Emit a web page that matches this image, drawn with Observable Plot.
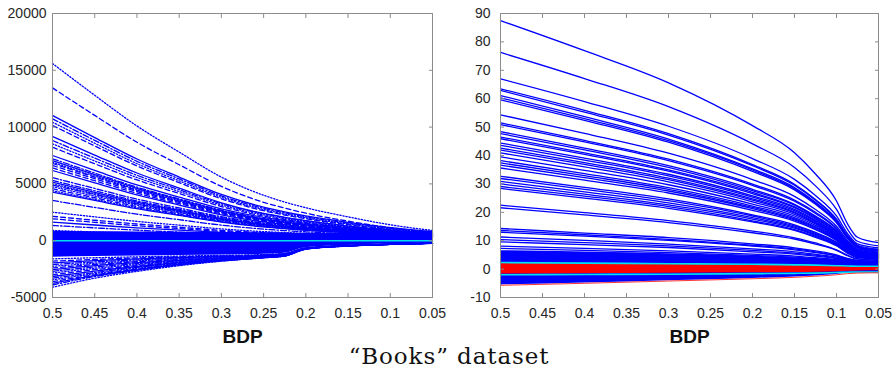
<!DOCTYPE html>
<html><head><meta charset="utf-8">
<script src="https://cdn.jsdelivr.net/npm/d3@7"></script>
<script src="https://cdn.jsdelivr.net/npm/@observablehq/plot@0.6"></script>
<style>
body{margin:0;background:#fff;}
#wrap{position:relative;width:896px;height:374px;overflow:hidden;background:#fff;}
#left{position:absolute;left:0;top:0;}
#right{position:absolute;left:448px;top:0;}
#cap{position:absolute;left:0;width:898px;top:343px;text-align:center;font-family:"DejaVu Serif",serif;font-size:23px;letter-spacing:0.9px;color:#111;white-space:nowrap;}
</style></head><body>
<div id="wrap"><div id="left"></div><div id="right"></div><div id="cap">“Books” dataset</div></div>
<script>
// ---------- data ----------
const xTicks = [0.5, 0.45, 0.4, 0.35, 0.3, 0.25, 0.2, 0.15, 0.1, 0.05];
const xTickLabels = ["0.5", "0.45", "0.4", "0.35", "0.3", "0.25", "0.2", "0.15", "0.1", "0.05"];
const leftYTicks = [-5000, 0, 5000, 10000, 15000, 20000];
const rightYTicks = [-10, 0, 10, 20, 30, 40, 50, 60, 70, 80, 90];
const xLabel = "BDP";

// left panel: BDP sample points
const leftX = [0.5, 0.45, 0.4, 0.35, 0.3, 0.25, 0.225, 0.2, 0.15, 0.1, 0.05];
const leftUpperLines = [
  [15600,12800,10100,7800,5600,4000,3400,2900,2100,1400,900],
  [13450,11030,8670,6690,4780,3380,2870,2420,1720,1150,700],
  [11020,9080,7190,5600,4070,2950,2540,2180,1620,1160,800],
  [10730,8830,6990,5440,3940,2850,2450,2100,1550,1100,750],
  [10430,8580,6780,5270,3810,2740,2350,2010,1480,1040,700],
  [10140,8340,6580,5110,3690,2640,2260,1930,1410,980,650],
  [9170,7540,5960,4630,3340,2400,2060,1760,1290,900,600],
  [8820,7270,5760,4490,3260,2370,2040,1750,1300,940,650],
  [8530,7020,5560,4330,3140,2270,1950,1670,1230,880,600],
  [8230,6770,5350,4160,3010,2160,1860,1590,1160,820,550],
  [7500,6190,4910,3840,2810,2050,1770,1530,1150,840,600],
  [7210,5950,4710,3680,2680,1950,1680,1450,1080,780,550],
  [6910,5690,4510,3510,2550,1850,1590,1370,1010,720,500],
  [6620,5460,4330,3380,2460,1790,1540,1330,990,710,500],
  [6180,5090,4030,3140,2280,1650,1420,1220,910,650,450],
  [5300,4390,3500,2760,2040,1510,1320,1150,880,670,500],
  [5010,4140,3300,2590,1910,1410,1230,1070,820,610,450],
  [4570,3780,3010,2360,1730,1280,1110,960,730,550,400],
  [4270,3540,2820,2220,1640,1210,1060,920,710,540,400],
  [3540,2930,2340,1850,1370,1020,890,780,610,460,350],
  [2510,2100,1700,1370,1040,800,720,640,520,430,350],
  [1930,1620,1320,1070,820,640,580,520,430,360,300],
  [1630,1380,1130,930,730,580,530,480,410,350,300],
  [1340,1130,930,760,600,480,440,400,340,290,250],
  [900,770,640,530,420,350,320,300,260,230,200],
  [6800,5600,4440,3460,2520,1820,1570,1350,1000,720,500],
  [5150,4260,3390,2660,1950,1440,1250,1090,830,620,450],
  [4900,4060,3230,2540,1870,1390,1210,1050,810,610,450],
  [4400,3640,2900,2280,1680,1240,1080,940,720,540,400],
  [6400,5280,4180,3260,2370,1720,1490,1280,950,690,480],
  [7050,5820,4610,3600,2620,1900,1630,1410,1050,760,530],
  [5550,4600,3660,2880,2110,1560,1360,1180,890,660,480],
  [4750,3930,3130,2460,1800,1330,1160,1010,770,580,430],
  [2150,1800,1470,1190,910,710,640,570,460,380,320]
];
const leftLowerLines = [
  [-1600,-1500,-1420,-1350,-1290,-1220,-1120,-630,-430,-305,-210],
  [-1800,-1650,-1520,-1420,-1340,-1250,-1140,-640,-435,-305,-212],
  [-1950,-1760,-1600,-1480,-1380,-1280,-1160,-650,-440,-310,-214],
  [-2100,-1870,-1680,-1540,-1420,-1300,-1180,-660,-440,-310,-216],
  [-2250,-1990,-1770,-1600,-1460,-1320,-1200,-670,-445,-312,-218],
  [-2400,-2100,-1850,-1660,-1500,-1340,-1215,-680,-445,-314,-220],
  [-2550,-2200,-1930,-1720,-1530,-1360,-1230,-690,-450,-315,-220],
  [-2700,-2310,-2020,-1780,-1570,-1380,-1245,-700,-450,-316,-222],
  [-2850,-2430,-2100,-1830,-1600,-1400,-1260,-705,-455,-318,-224],
  [-3000,-2550,-2190,-1890,-1630,-1420,-1275,-710,-455,-320,-225],
  [-3150,-2680,-2270,-1940,-1660,-1440,-1290,-720,-460,-320,-226],
  [-3300,-2800,-2350,-1990,-1690,-1455,-1300,-725,-460,-322,-228],
  [-3450,-2900,-2430,-2040,-1720,-1470,-1315,-730,-462,-323,-228],
  [-3600,-3000,-2500,-2080,-1740,-1480,-1325,-735,-465,-325,-230],
  [-3750,-3080,-2560,-2110,-1760,-1490,-1335,-740,-465,-325,-230],
  [-3900,-3150,-2610,-2140,-1780,-1500,-1345,-745,-468,-327,-232],
  [-4100,-3300,-2700,-2200,-1800,-1510,-1355,-750,-470,-328,-232]
];
const leftBandUpper = [800,780,760,740,720,700,680,650,650,700,850];
const leftBandLower = [-1450,-1400,-1350,-1300,-1260,-1200,-1100,-620,-420,-300,-210];
const leftZero = [0,0,0,0,0,0,0,0,0,0,0];

// right panel: BDP sample points
const rightX = [0.5, 0.4, 0.3, 0.2, 0.15, 0.125, 0.1, 0.087, 0.075, 0.05];
const rightLines = [
  [87.5,76.9,65.6,50.5,41.0,33.5,24.0,16.0,11.2,9.3],
  [76.3,67.1,57.2,44.1,35.8,29.3,21.0,14.1,9.8,8.2],
  [67.0,59.0,50.3,38.9,31.6,25.9,18.7,12.6,8.9,7.5],
  [63.5,55.9,47.7,36.8,29.9,24.5,17.6,11.9,8.4,7.0],
  [62.9,55.3,47.2,36.4,29.5,24.2,17.3,11.6,8.1,6.8],
  [61.1,53.7,45.8,35.3,28.7,23.5,16.8,11.3,7.9,6.6],
  [60.3,53.0,45.2,34.9,28.3,23.2,16.6,11.1,7.8,6.5],
  [59.6,52.4,44.7,34.4,27.9,22.8,16.3,10.9,7.6,6.3],
  [54.3,47.8,40.8,31.5,25.6,21.0,15.1,10.2,7.2,6.0],
  [51.5,45.3,38.7,29.9,24.3,20.0,14.4,9.7,6.9,5.8],
  [50.9,44.8,38.2,29.5,23.9,19.6,14.1,9.5,6.7,5.6],
  [48.4,42.6,36.4,28.1,22.8,18.7,13.5,9.1,6.4,5.4],
  [47.7,42.0,35.8,27.6,22.5,18.4,13.3,8.9,6.3,5.3],
  [46.5,40.9,34.9,27.0,21.9,18.0,13.0,8.8,6.2,5.2],
  [45.9,40.4,34.5,26.6,21.6,17.7,12.8,8.6,6.1,5.1],
  [44.4,39.1,33.4,25.8,21.0,17.2,12.4,8.4,5.9,5.0],
  [43.6,38.4,32.8,25.3,20.6,16.9,12.2,8.2,5.8,4.9],
  [42.6,37.5,32.0,24.7,20.1,16.5,11.9,8.1,5.7,4.8],
  [41.9,36.9,31.5,24.3,19.8,16.2,11.7,7.9,5.6,4.7],
  [40.9,36.0,30.7,23.7,19.3,15.9,11.4,7.7,5.5,4.6],
  [39.5,34.8,29.7,22.9,18.7,15.4,11.1,7.5,5.3,4.5],
  [38.2,33.6,28.7,22.2,18.1,14.9,10.8,7.3,5.2,4.4],
  [37.4,32.9,28.1,21.7,17.7,14.6,10.5,7.1,5.1,4.3],
  [36.6,32.2,27.5,21.3,17.3,14.2,10.3,7.0,5.0,4.2],
  [35.6,31.3,26.8,20.7,16.9,13.9,10.0,6.8,4.9,4.1],
  [32.7,28.8,24.7,19.1,15.6,12.9,9.4,6.5,4.7,4.0],
  [31.9,28.1,24.1,18.7,15.2,12.6,9.2,6.3,4.6,3.9],
  [30.9,27.2,23.3,18.1,14.8,12.2,8.9,6.1,4.5,3.8],
  [30.0,26.4,22.6,17.6,14.4,11.9,8.6,6.0,4.3,3.7],
  [29.1,25.7,22.0,17.0,13.9,11.5,8.4,5.8,4.2,3.6],
  [28.4,25.0,21.4,16.6,13.6,11.2,8.2,5.6,4.1,3.5],
  [22.5,19.9,17.1,13.4,11.0,9.2,6.8,4.9,3.7,3.2],
  [21.6,19.1,16.4,12.8,10.6,8.8,6.6,4.7,3.5,3.1],
  [14.3,12.7,11.1,8.9,7.5,6.4,5.0,3.8,3.1,2.8],
  [13.6,12.1,10.5,8.4,7.1,6.1,4.7,3.6,3.0,2.7],
  [13.0,11.6,10.1,8.1,6.8,5.8,4.6,3.5,2.8,2.6],
  [11.3,10.1,8.8,7.1,6.1,5.2,4.2,3.3,2.7,2.5],
  [10.4,9.3,8.2,6.6,5.6,4.9,3.9,3.1,2.6,2.4],
  [9.6,8.6,7.6,6.1,5.3,4.6,3.7,2.9,2.5,2.3],
  [8.1,7.3,6.4,5.3,4.6,4.0,3.3,2.7,2.3,2.2],
  [7.3,6.6,5.8,4.8,4.2,3.7,3.1,2.5,2.2,2.1]
];
const rightBandUpper = [6.5,6.0,5.4,4.6,4.0,3.6,3.0,2.5,2.2,2.0];
const rightBandLower = [-5.6,-4.9,-4.1,-3.3,-2.8,-2.4,-1.9,-1.5,-1.3,-1.2];
const redUpper = [2.1,1.9,1.7,1.5,1.3,1.2,1.0,0.8,0.7,0.6];
const redLower = [-1.7,-1.6,-1.5,-1.3,-1.2,-1.1,-0.9,-0.8,-0.7,-0.6];
const cyanUpper = [2.3,2.1,1.9,1.7,1.5,1.4,1.2,1.1,1.0,1.0];
const cyanLower = [-2.0,-1.9,-1.8,-1.6,-1.5,-1.4,-1.2,-1.1,-1.0,-1.0];
const redEdge = [-5.7,-5.0,-4.2,-3.4,-2.9,-2.5,-2.0,-1.6,-1.4,-1.3];

// ---------- build ----------
const BLUE = "#0000ff", RED = "#ff0000", CYAN = "#00e0ee", FRAME = "#8c8c8c", TXT = "#262626";
const dashOrder = ["1.3,1.8", "5,3", null, "6,2,1.5,2"];
const tidy = (X, lines, off = 0) => lines.flatMap((ys, i) => ys.map((y, j) => ({x: X[j], y, id: i + off})));
const bandRows = (X, lo, hi) => X.map((x, j) => ({x, y1: lo[j], y2: hi[j]}));
const series = (X, ys) => X.map((x, j) => ({x, y: ys[j]}));
const fmt = d => xTickLabels[xTicks.indexOf(d)];

function axes(yTicks, yPad) {
  return [
    Plot.axisX(xTicks, {anchor: "bottom", tickSize: 0, tickPadding: 11, tickFormat: fmt, fontSize: 14, fill: TXT}),
    Plot.axisY(yTicks, {anchor: "left", tickSize: 0, tickPadding: yPad, tickFormat: d => String(d), fontSize: 14, fill: TXT}),
    Plot.axisX(xTicks, {anchor: "bottom", tickSize: -4, tickFormat: () => "", stroke: FRAME}),
    Plot.axisX(xTicks, {anchor: "top", tickSize: -4, tickFormat: () => "", stroke: FRAME}),
    Plot.axisY(yTicks, {anchor: "left", tickSize: -4, tickFormat: () => "", stroke: FRAME}),
    Plot.axisY(yTicks, {anchor: "right", tickSize: -4, tickFormat: () => "", stroke: FRAME}),
    Plot.frame({stroke: FRAME, strokeWidth: 1}),
    Plot.text([xLabel], {frameAnchor: "bottom", dy: 39, text: d => d, fontSize: 19, fontWeight: "bold", fill: "#111", lineAnchor: "middle"})
  ];
}

const common = {width: 448, height: 350, marginTop: 13, marginBottom: 53, marginLeft: 52,
  style: {fontFamily: "'Liberation Sans', Arial, sans-serif", background: "#fff", overflow: "visible"}};

// left
const leftAll = tidy(leftX, leftUpperLines).concat(tidy(leftX, leftLowerLines, 100));
const leftMarks = [
  Plot.areaY(bandRows(leftX, leftBandLower, leftBandUpper), {x: "x", y1: "y1", y2: "y2", fill: BLUE, curve: "monotone-x"})
];
dashOrder.forEach((d, k) => {
  leftMarks.push(Plot.line(leftAll.filter(r => (r.id % 4) === k), {x: "x", y: "y", z: "id", stroke: BLUE, strokeWidth: 1.3, strokeDasharray: d, curve: "monotone-x"}));
});
leftMarks.push(Plot.line(series(leftX, leftZero), {x: "x", y: "y", stroke: CYAN, strokeWidth: 1.6}));
const leftPlot = Plot.plot({...common, marginRight: 16,
  x: {domain: [0.5, 0.05], label: null},
  y: {domain: [-5000, 20000], label: null},
  marks: [...leftMarks, ...axes(leftYTicks, 6)]
});
document.getElementById("left").append(leftPlot);

// right
const rightMarks = [
  Plot.areaY(bandRows(rightX, rightBandLower, rightBandUpper), {x: "x", y1: "y1", y2: "y2", fill: BLUE, curve: "monotone-x"}),
  Plot.line(tidy(rightX, rightLines), {x: "x", y: "y", z: "id", stroke: BLUE, strokeWidth: 1.3, curve: "monotone-x"}),
  Plot.areaY(bandRows(rightX, redLower, redUpper), {x: "x", y1: "y1", y2: "y2", fill: RED, curve: "monotone-x"}),
  Plot.line(series(rightX, cyanUpper), {x: "x", y: "y", stroke: CYAN, strokeWidth: 1.6, curve: "monotone-x"}),
  Plot.line(series(rightX, cyanLower), {x: "x", y: "y", stroke: CYAN, strokeWidth: 1.6, curve: "monotone-x"}),
  Plot.line(series(rightX, redEdge), {x: "x", y: "y", stroke: RED, strokeWidth: 0.8, curve: "monotone-x"})
];
const rightPlot = Plot.plot({...common, marginRight: 18,
  x: {domain: [0.5, 0.05], label: null},
  y: {domain: [-10, 90], label: null},
  marks: [...rightMarks, ...axes(rightYTicks, 10)]
});
document.getElementById("right").append(rightPlot);
</script>
</body></html>
